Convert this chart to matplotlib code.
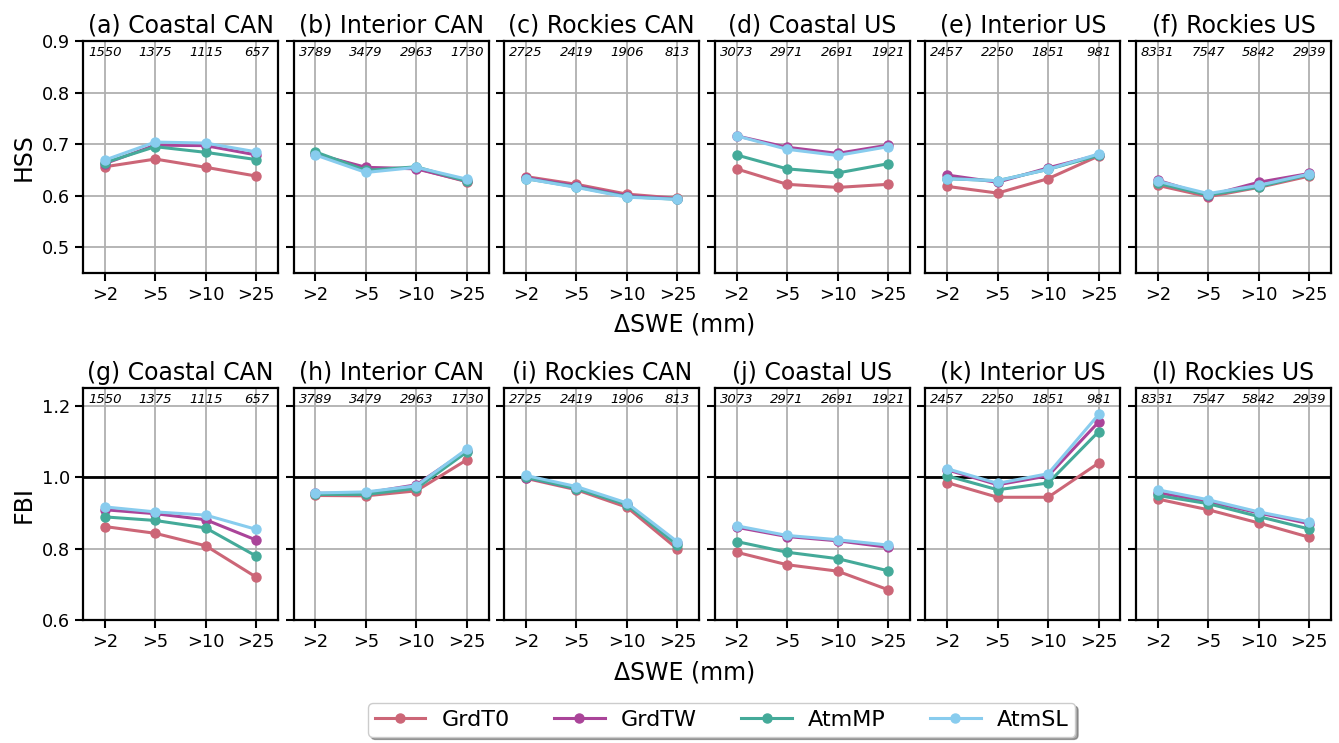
import matplotlib
matplotlib.use("Agg")
import matplotlib.pyplot as plt
import matplotlib.transforms as mtrans

thresholds = [">2", ">5", ">10", ">25"]
regions = ["Coastal CAN", "Interior CAN", "Rockies CAN", "Coastal US", "Interior US", "Rockies US"]
schemes = ["GrdT0", "GrdTW", "AtmMP", "AtmSL"]
colors = ["#CC6677", "#AA4499", "#44AA99", "#88CCEE"]

# number of events per region and threshold
counts = [
    [1550, 1375, 1115, 657],
    [3789, 3479, 2963, 1730],
    [2725, 2419, 1906, 813],
    [3073, 2971, 2691, 1921],
    [2457, 2250, 1851, 981],
    [8331, 7547, 5842, 2939],
]

# HSS[region][scheme] -> 4 thresholds
hss = [
    [[0.656, 0.671, 0.655, 0.638], [0.662, 0.698, 0.697, 0.679], [0.664, 0.695, 0.684, 0.670], [0.669, 0.704, 0.702, 0.685]],
    [[0.681, 0.653, 0.653, 0.627], [0.681, 0.655, 0.652, 0.628], [0.685, 0.649, 0.656, 0.628], [0.679, 0.645, 0.655, 0.632]],
    [[0.637, 0.622, 0.603, 0.595], [0.635, 0.619, 0.600, 0.594], [0.633, 0.617, 0.598, 0.593], [0.633, 0.616, 0.597, 0.593]],
    [[0.652, 0.622, 0.616, 0.622], [0.716, 0.694, 0.682, 0.698], [0.679, 0.652, 0.644, 0.662], [0.716, 0.690, 0.678, 0.695]],
    [[0.618, 0.605, 0.633, 0.677], [0.640, 0.626, 0.654, 0.679], [0.633, 0.629, 0.651, 0.678], [0.633, 0.629, 0.651, 0.681]],
    [[0.620, 0.598, 0.616, 0.638], [0.630, 0.600, 0.626, 0.643], [0.624, 0.601, 0.617, 0.641], [0.628, 0.604, 0.620, 0.642]],
]

# FBI[region][scheme] -> 4 thresholds
fbi = [
    [[0.862, 0.843, 0.808, 0.720], [0.909, 0.898, 0.881, 0.824], [0.889, 0.879, 0.858, 0.779], [0.917, 0.903, 0.894, 0.854]],
    [[0.949, 0.948, 0.962, 1.049], [0.955, 0.956, 0.979, 1.075], [0.952, 0.952, 0.969, 1.071], [0.956, 0.959, 0.976, 1.079]],
    [[0.997, 0.965, 0.916, 0.799], [0.999, 0.968, 0.925, 0.815], [1.000, 0.968, 0.923, 0.810], [1.005, 0.974, 0.928, 0.819]],
    [[0.790, 0.755, 0.737, 0.685], [0.860, 0.834, 0.822, 0.804], [0.820, 0.790, 0.772, 0.738], [0.864, 0.837, 0.825, 0.810]],
    [[0.985, 0.944, 0.944, 1.040], [1.021, 0.979, 1.004, 1.155], [1.004, 0.965, 0.984, 1.128], [1.024, 0.983, 1.010, 1.176]],
    [[0.939, 0.909, 0.872, 0.832], [0.957, 0.932, 0.900, 0.870], [0.949, 0.926, 0.890, 0.855], [0.965, 0.937, 0.903, 0.875]],
]

letters_top = "abcdef"
letters_bot = "ghijkl"

fig, axes = plt.subplots(2, 6, figsize=(13.39, 7.43), dpi=100, sharey="row")
fig.subplots_adjust(left=0.062, right=0.994, top=0.9448, bottom=0.1655,
                    wspace=0.08, hspace=0.496)

x = list(range(len(thresholds)))

for row, (data, letters, ylims, yticks) in enumerate([
        (hss, letters_top, (0.45, 0.9), [0.5, 0.6, 0.7, 0.8, 0.9]),
        (fbi, letters_bot, (0.6, 1.25), [0.6, 0.8, 1.0, 1.2])]):
    for col in range(6):
        ax = axes[row, col]
        ax.set_axisbelow(True)
        ax.grid(True, color="#b0b0b0", linewidth=1.3)
        if row == 1:
            ax.axhline(1.0, color="black", linewidth=2, zorder=1.5)
        for s in range(len(schemes)):
            ax.plot(x, data[col][s], color=colors[s], marker="o", markersize=6.5,
                    linewidth=2.2, label=schemes[s], zorder=3)
        ax.set_xlim(-0.43, 3.43)
        ax.set_ylim(*ylims)
        ax.set_yticks(yticks)
        ax.set_xticks(x)
        ax.set_xticklabels(thresholds)
        ax.tick_params(direction="out", length=6, width=1.5, labelsize=12.8, color="black")
        for sp in ax.spines.values():
            sp.set_linewidth(1.6)
            sp.set_color("black")
        ax.set_title("(%s) %s" % (letters[col], regions[col]), fontsize=17, pad=6)
        trans = mtrans.blended_transform_factory(ax.transData, ax.transAxes)
        for i in x:
            ax.text(i, 0.95, str(counts[col][i]), transform=trans, ha="center",
                    va="center", fontsize=9.5, style="italic")

axes[0, 0].set_ylabel("HSS", fontsize=17)
axes[1, 0].set_ylabel("FBI", fontsize=17)

fig.text(0.511, 0.563, "\u0394SWE (mm)", ha="center", va="center", fontsize=17)
fig.text(0.511, 0.095, "\u0394SWE (mm)", ha="center", va="center", fontsize=17)

handles, labels = axes[0, 0].get_legend_handles_labels()
fig.legend(handles, labels, loc="center", bbox_to_anchor=(0.539, 0.031), ncol=4,
           fontsize=16, shadow=True, fancybox=True, handlelength=2.27,
           handletextpad=0.73, columnspacing=2.0, borderpad=0.3)

fig.savefig("out.png", dpi=100)
